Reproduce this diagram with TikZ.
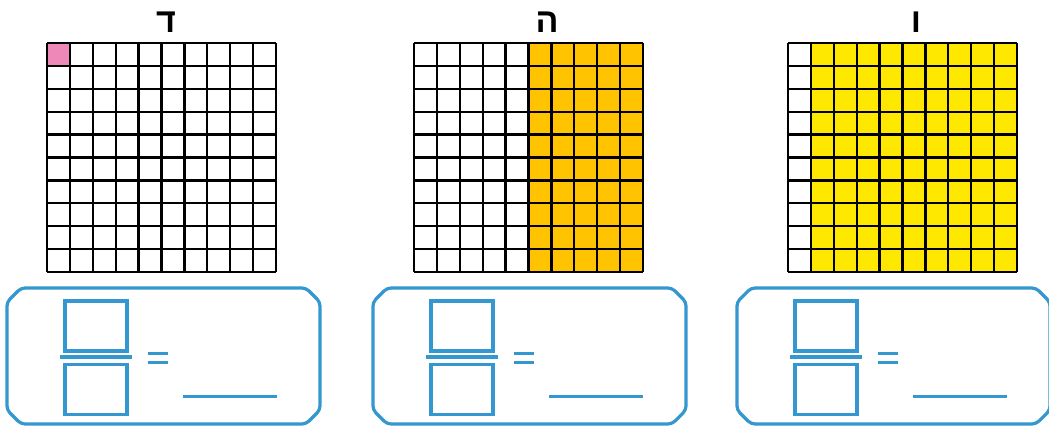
\documentclass[tikz,border=0pt]{standalone}
\usepackage{fontspec}
\newfontfamily\hebfont[Script=Hebrew]{Liberation Sans}
\TeXXeTstate=1
\usetikzlibrary{positioning}

\definecolor{boxblue}{HTML}{3497CF}
\definecolor{cellpink}{HTML}{EE88B8}
\definecolor{cellorange}{HTML}{FFC300}
\definecolor{cellyellow}{HTML}{FFE800}

\begin{document}
\begin{tikzpicture}[
    x=1pt, y=-1pt,
    letter/.style={font=\hebfont\bfseries\fontsize{34}{34}\selectfont, inner sep=0pt, anchor=base},
    gridline/.style={draw=black, line width=2.3pt},
    answer/.style={draw=boxblue, line width=3.2pt, rounded corners=4pt},
    blank/.style={rectangle, draw=boxblue, line width=3.4pt, minimum width=62pt, minimum height=50pt, inner sep=0pt},
    bar/.style={draw=boxblue, line width=3.4pt},
    eqline/.style={draw=boxblue, line width=3pt}
]
\useasboundingbox (0,0) rectangle (1049,431);

% Labels
\node[letter] (lab_d) at (166,32) {\beginR ד\endR};
\node[letter] (lab_h) at (547,32) {\beginR ה\endR};
\node[letter] (lab_v) at (916,32) {\beginR ו\endR};

% Coloured cells
\fill[cellpink] (47,43) rectangle (69.9,65.9);
\fill[cellorange] (528.5,43) rectangle (643,272);
\fill[cellyellow] (810.9,43) rectangle (1017,272);

% Hundred grids
\foreach \gx in {47,414,788} {
    \foreach \i in {0,...,10} {
        \draw[gridline] ({\gx+22.9*\i},43) -- ({\gx+22.9*\i},272);
        \draw[gridline] (\gx,{43+22.9*\i}) -- ({\gx+229},{43+22.9*\i});
    }
}

% Answer boxes
\foreach \bx/\nm in {7/a, 373/b, 737/c} {
    \draw[answer] ({\bx+14},288) -- ({\bx+299},288) -- ({\bx+313},302) -- ({\bx+313},410)
        -- ({\bx+299},424) -- ({\bx+14},424) -- (\bx,410) -- (\bx,302) -- cycle;
    \node[blank] (num_\nm) at ({\bx+89},326) {};
    \node[blank] (den_\nm) at ({\bx+89},389.5) {};
    \draw[bar] ({\bx+53},357) -- ({\bx+125},357);
    \draw[eqline] ({\bx+141},353) -- ({\bx+161},353);
    \draw[eqline] ({\bx+141},362) -- ({\bx+161},362);
    \draw[eqline] ({\bx+176},396) -- ({\bx+270},396);
}

\end{tikzpicture}
\end{document}
